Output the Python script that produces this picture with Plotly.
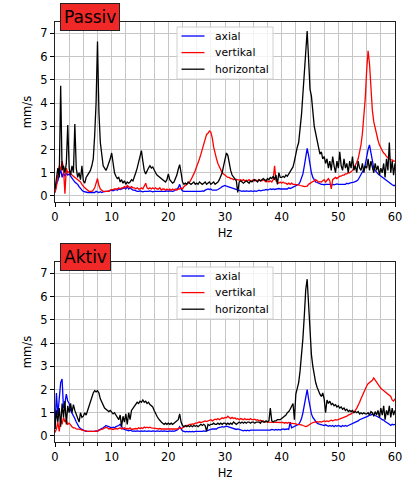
import plotly.graph_objects as go

# frequency grid (Hz), 0.25 Hz steps from 0 to 60
freq = [k * 0.25 for k in range(241)]

# ---------- Passiv ----------
axial_passiv = [
    0.15, 0.5, 0.65, 0.9, 1.15, 0.8, 1.0, 0.85, 1.0, 0.9, 0.95, 0.85, 0.75, 0.7, 0.6, 0.55, 0.5, 0.4, 0.3, 0.25,
    0.2, 0.18, 0.15, 0.15, 0.15, 0.15, 0.18, 0.15, 0.15, 0.2, 0.18, 0.15, 0.18, 0.15, 0.18, 0.2, 0.2, 0.2, 0.22, 0.25,
    0.25, 0.22, 0.25, 0.28, 0.25, 0.3, 0.28, 0.3, 0.3, 0.35, 0.3, 0.4, 0.3, 0.35, 0.3, 0.25, 0.25, 0.22, 0.2, 0.2,
    0.22, 0.2, 0.18, 0.2, 0.2, 0.18, 0.2, 0.22, 0.2, 0.18, 0.2, 0.2, 0.18, 0.2, 0.18, 0.2, 0.2, 0.18, 0.2, 0.22,
    0.2, 0.22, 0.2, 0.2, 0.22, 0.25, 0.3, 0.35, 0.5, 0.3, 0.22, 0.2, 0.2, 0.18, 0.2, 0.18, 0.2, 0.2, 0.18, 0.2,
    0.2, 0.18, 0.2, 0.2, 0.22, 0.2, 0.25, 0.28, 0.3, 0.28, 0.3, 0.25, 0.25, 0.22, 0.25, 0.28, 0.3, 0.35, 0.4, 0.42,
    0.45, 0.42, 0.4, 0.4, 0.38, 0.35, 0.32, 0.3, 0.28, 0.25, 0.25, 0.22, 0.2, 0.22, 0.2, 0.22, 0.2, 0.2, 0.22, 0.2,
    0.2, 0.22, 0.2, 0.22, 0.25, 0.22, 0.25, 0.25, 0.25, 0.28, 0.25, 0.28, 0.3, 0.28, 0.3, 0.28, 0.3, 0.3, 0.32, 0.3,
    0.3, 0.32, 0.3, 0.32, 0.3, 0.35, 0.32, 0.35, 0.38, 0.4, 0.42, 0.45, 0.5, 0.6, 0.75, 0.95, 1.3, 1.7, 2.05, 1.75,
    1.3, 1.0, 0.8, 0.7, 0.6, 0.58, 0.55, 0.52, 0.5, 0.5, 0.48, 0.5, 0.5, 0.48, 0.5, 0.45, 0.5, 0.48, 0.5, 0.52,
    0.5, 0.5, 0.52, 0.5, 0.52, 0.5, 0.55, 0.52, 0.55, 0.55, 0.58, 0.6, 0.62, 0.65, 0.7, 0.8, 0.9, 1.0, 1.15, 1.35,
    1.7, 2.0, 2.2, 1.8, 1.4, 1.2, 1.1, 1.0, 0.95, 0.9, 0.85, 0.8, 0.75, 0.7, 0.65, 0.6, 0.55, 0.5, 0.48, 0.45,
    0.45,
]
vertikal_passiv = [
    0.15, 0.4, 0.9, 1.3, 1.1, 1.5, 1.2, 0.1, 1.2, 1.0, 1.05, 0.95, 0.9, 0.85, 0.8, 0.75, 0.7, 0.65, 0.6, 0.5,
    0.4, 0.35, 0.3, 0.25, 0.2, 0.2, 0.2, 0.25, 0.35, 0.55, 0.75, 0.45, 0.3, 0.25, 0.2, 0.2, 0.2, 0.22, 0.2, 0.25,
    0.25, 0.28, 0.3, 0.3, 0.3, 0.35, 0.3, 0.35, 0.35, 0.4, 0.35, 0.45, 0.4, 0.35, 0.4, 0.35, 0.35, 0.3, 0.35, 0.3,
    0.3, 0.35, 0.3, 0.45, 0.55, 0.35, 0.3, 0.35, 0.3, 0.35, 0.3, 0.35, 0.3, 0.3, 0.35, 0.25, 0.3, 0.3, 0.25, 0.3,
    0.25, 0.3, 0.25, 0.3, 0.25, 0.3, 0.25, 0.3, 0.3, 0.35, 0.3, 0.4, 0.45, 0.5, 0.55, 0.6, 0.7, 0.8, 0.95, 1.1,
    1.25, 1.4, 1.6, 1.8, 2.0, 2.25, 2.5, 2.65, 2.7, 2.8, 2.75, 2.5, 2.1, 1.8, 1.6, 1.4, 1.25, 1.1, 1.0, 0.95,
    0.9, 0.85, 0.8, 0.8, 0.75, 0.75, 0.7, 0.72, 0.7, 0.7, 0.68, 0.7, 0.65, 0.7, 0.65, 0.68, 0.65, 0.7, 0.65, 0.65,
    0.7, 0.65, 0.68, 0.65, 0.7, 0.65, 0.65, 0.7, 0.65, 0.6, 0.65, 0.6, 0.65, 0.6, 0.7, 1.3, 0.65, 0.6, 0.55, 0.6,
    0.55, 0.6, 0.55, 0.55, 0.5, 0.55, 0.5, 0.55, 0.5, 0.5, 0.5, 0.48, 0.48, 0.45, 0.45, 0.42, 0.4, 0.4, 0.42, 0.5,
    0.55, 0.6, 0.62, 0.65, 0.7, 0.65, 0.6, 0.62, 0.6, 0.65, 0.7, 0.6, 0.7, 0.75, 0.65, 0.3, 0.7, 0.75, 0.8, 0.75,
    0.8, 0.85, 0.85, 0.9, 0.9, 0.95, 0.95, 1.0, 1.0, 1.05, 1.1, 1.2, 1.3, 1.45, 1.6, 1.9, 2.2, 2.7, 3.3, 4.2,
    5.4, 6.25, 5.7, 4.6, 3.7, 3.2, 2.9, 2.6, 2.4, 2.2, 2.05, 1.95, 1.85, 1.8, 1.7, 1.65, 1.6, 1.55, 1.55, 1.5,
    1.5,
]
horizontal_passiv = [
    0.3, 0.9, 1.2, 0.8, 4.75, 1.1, 1.3, 1.0, 1.4, 3.05, 1.2, 0.9, 1.3, 1.0, 3.1, 1.2, 0.8, 1.0, 0.7, 1.3,
    0.65, 0.55, 0.8, 0.9, 1.0, 1.1, 1.3, 1.6, 2.6, 4.0, 6.65, 3.6, 2.3, 1.8, 1.3, 1.2, 1.1, 1.25, 1.4, 1.6,
    1.85, 1.3, 1.0, 0.85, 0.75, 0.8, 0.6, 0.7, 0.55, 0.65, 0.5, 0.6, 0.55, 0.6, 0.7, 0.65, 0.8, 1.0, 1.2, 1.45,
    1.8, 1.95, 1.5, 1.1, 0.95, 1.1, 1.2, 1.3, 1.2, 1.25, 1.1, 1.0, 0.9, 0.85, 0.8, 0.75, 0.7, 0.65, 0.6, 0.7,
    0.95, 0.7, 0.6, 0.55, 0.6, 0.75, 0.9, 1.15, 1.35, 1.0, 0.6, 0.5, 0.55, 0.5, 0.6, 0.55, 0.5, 0.55, 0.6, 0.5,
    0.55, 0.5, 0.6, 0.55, 0.5, 0.55, 0.6, 0.5, 0.55, 0.6, 0.5, 0.55, 0.6, 0.5, 0.55, 0.6, 0.7, 0.85, 1.0, 1.3,
    1.6, 1.85, 1.75, 1.4, 1.1, 0.9, 0.8, 0.7, 0.65, 0.15, 0.6, 0.65, 0.6, 0.55, 0.6, 0.65, 0.6, 0.55, 0.65, 0.6,
    0.65, 0.7, 0.65, 0.6, 0.7, 0.65, 0.7, 0.75, 0.7, 0.65, 0.75, 0.7, 0.8, 0.75, 0.85, 0.7, 0.9, 0.5, 1.0, 0.8,
    0.8, 0.85, 0.8, 0.9, 0.85, 0.95, 1.0, 1.1, 1.25, 1.5, 1.9, 2.1, 2.3, 2.8, 3.5, 4.4, 5.4, 6.4, 7.1, 5.9,
    4.6, 4.3, 3.5, 3.0, 2.7, 2.3, 2.1, 1.8, 1.9, 1.6, 1.7, 1.4, 1.6, 1.2, 1.5, 1.1, 1.7, 1.3, 1.0, 1.5,
    1.2, 1.9, 1.3, 1.1, 1.6, 1.2, 1.4, 1.0, 1.5, 1.2, 1.7, 1.1, 1.3, 1.0, 1.5, 1.2, 1.1, 1.4, 1.0, 1.3,
    1.2, 1.6, 1.1, 1.5, 1.3, 1.0, 1.4, 1.1, 1.3, 0.9, 1.2, 1.0, 1.4, 0.8, 1.6, 1.1, 2.3, 1.0, 1.5, 0.9,
    1.4,
]

# ---------- Aktiv ----------
axial_aktiv = [
    0.3, 1.85, 0.9, 1.6, 2.3, 2.45, 1.2, 1.4, 1.8, 1.5, 1.4, 1.1, 1.0, 0.85, 0.75, 0.6, 0.45, 0.38, 0.32, 0.28,
    0.25, 0.22, 0.2, 0.2, 0.18, 0.18, 0.2, 0.18, 0.2, 0.22, 0.2, 0.25, 0.28, 0.3, 0.35, 0.4, 0.45, 0.42, 0.4, 0.38,
    0.35, 0.38, 0.35, 0.4, 0.42, 0.45, 0.5, 0.4, 0.3, 0.28, 0.25, 0.25, 0.22, 0.25, 0.22, 0.2, 0.22, 0.2, 0.22, 0.2,
    0.2, 0.22, 0.2, 0.22, 0.2, 0.2, 0.22, 0.2, 0.2, 0.22, 0.2, 0.2, 0.22, 0.2, 0.2, 0.22, 0.2, 0.22, 0.2, 0.2,
    0.2, 0.22, 0.2, 0.22, 0.2, 0.22, 0.25, 0.3, 0.4, 0.3, 0.22, 0.2, 0.18, 0.2, 0.18, 0.2, 0.18, 0.2, 0.18, 0.2,
    0.2, 0.18, 0.2, 0.18, 0.2, 0.22, 0.2, 0.22, 0.25, 0.25, 0.28, 0.3, 0.3, 0.32, 0.3, 0.35, 0.35, 0.38, 0.4, 0.38,
    0.4, 0.42, 0.4, 0.38, 0.35, 0.32, 0.3, 0.3, 0.28, 0.3, 0.28, 0.25, 0.25, 0.22, 0.25, 0.22, 0.25, 0.22, 0.25, 0.25,
    0.22, 0.25, 0.22, 0.25, 0.22, 0.25, 0.22, 0.25, 0.25, 0.22, 0.25, 0.22, 0.25, 0.28, 0.25, 0.25, 0.28, 0.25, 0.28, 0.25,
    0.28, 0.3, 0.28, 0.3, 0.3, 0.28, 0.6, 0.35, 0.38, 0.4, 0.42, 0.45, 0.5, 0.6, 0.75, 1.0, 1.4, 1.8, 2.0, 1.6,
    1.2, 0.95, 0.8, 0.7, 0.6, 0.55, 0.52, 0.5, 0.5, 0.48, 0.45, 0.48, 0.45, 0.42, 0.45, 0.42, 0.45, 0.4, 0.45, 0.42,
    0.45, 0.42, 0.4, 0.45, 0.42, 0.45, 0.42, 0.45, 0.48, 0.5, 0.52, 0.55, 0.58, 0.6, 0.65, 0.7, 0.72, 0.75, 0.78, 0.8,
    0.82, 0.85, 0.9, 0.9, 0.95, 0.9, 0.88, 0.85, 0.82, 0.8, 0.75, 0.7, 0.68, 0.62, 0.6, 0.55, 0.5, 0.45, 0.5, 0.48,
    0.5,
]
vertikal_aktiv = [
    0.15, 0.3, 0.6, 0.2, 0.75, 0.5, 0.8, 0.6, 0.7, 0.5, 0.55, 0.45, 0.4, 0.35, 0.35, 0.3, 0.3, 0.28, 0.28, 0.25,
    0.25, 0.22, 0.22, 0.2, 0.2, 0.2, 0.18, 0.2, 0.2, 0.22, 0.2, 0.25, 0.25, 0.28, 0.3, 0.35, 0.38, 0.35, 0.3, 0.32,
    0.3, 0.28, 0.3, 0.32, 0.3, 0.32, 0.35, 0.3, 0.32, 0.35, 0.3, 0.32, 0.3, 0.35, 0.28, 0.3, 0.3, 0.32, 0.3, 0.35,
    0.32, 0.35, 0.32, 0.38, 0.35, 0.38, 0.35, 0.38, 0.35, 0.35, 0.32, 0.35, 0.32, 0.3, 0.32, 0.3, 0.3, 0.28, 0.3, 0.28,
    0.3, 0.28, 0.3, 0.3, 0.28, 0.3, 0.3, 0.32, 0.35, 0.32, 0.35, 0.4, 0.42, 0.45, 0.45, 0.5, 0.5, 0.52, 0.5, 0.55,
    0.55, 0.58, 0.6, 0.58, 0.6, 0.62, 0.65, 0.62, 0.65, 0.68, 0.7, 0.65, 0.7, 0.72, 0.7, 0.75, 0.7, 0.75, 0.78, 0.75,
    0.8, 0.78, 0.85, 0.8, 0.75, 0.8, 0.75, 0.78, 0.72, 0.75, 0.7, 0.75, 0.72, 0.7, 0.75, 0.7, 0.72, 0.7, 0.75, 0.7,
    0.7, 0.72, 0.68, 0.7, 0.65, 0.68, 0.62, 0.65, 0.6, 0.62, 0.6, 0.6, 0.58, 0.6, 0.58, 0.6, 0.6, 0.58, 0.6, 0.58,
    0.6, 0.58, 0.55, 0.58, 0.55, 0.58, 0.55, 0.55, 0.55, 0.55, 0.52, 0.5, 0.5, 0.5, 0.48, 0.45, 0.42, 0.4, 0.42, 0.45,
    0.5, 0.55, 0.58, 0.6, 0.6, 0.62, 0.6, 0.62, 0.6, 0.62, 0.65, 0.62, 0.65, 0.62, 0.65, 0.68, 0.65, 0.68, 0.7, 0.68,
    0.7, 0.72, 0.75, 0.78, 0.8, 0.82, 0.85, 0.9, 0.92, 0.95, 1.0, 1.05, 1.1, 1.2, 1.3, 1.45, 1.6, 1.75, 1.9, 2.05,
    2.15, 2.25, 2.3, 2.35, 2.4, 2.5, 2.4, 2.3, 2.2, 2.1, 2.05, 2.0, 1.95, 1.9, 1.85, 1.8, 1.75, 1.7, 1.55, 1.5,
    1.6,
]
horizontal_aktiv = [
    0.3, 1.1, 0.6, 1.2, 0.4, 1.4, 0.8, 1.5, 0.5, 1.3, 1.0, 1.4, 1.0, 1.35, 1.1, 0.9, 0.8, 0.6, 1.0, 0.8,
    0.85, 1.0, 0.9, 1.1, 1.3, 1.5, 1.7, 1.85, 1.95, 1.9, 1.95, 1.85, 1.6, 1.45, 1.3, 1.2, 1.15, 1.1, 1.05, 1.1,
    1.0, 0.95, 1.0, 0.9, 0.85, 0.7, 0.9, 0.4, 0.85, 0.6, 0.95, 0.5, 1.0, 0.7, 1.1, 1.2, 1.3, 1.35, 1.45, 1.4,
    1.5, 1.45, 1.55, 1.45, 1.5, 1.4, 1.45, 1.35, 1.3, 1.25, 1.1, 0.95, 0.85, 0.75, 0.65, 0.6, 0.55, 0.5, 0.55, 0.5,
    0.55, 0.5, 0.55, 0.5, 0.55, 0.6, 0.65, 0.7, 0.95, 0.6, 0.45, 0.4, 0.45, 0.4, 0.45, 0.4, 0.45, 0.4, 0.45, 0.42,
    0.45, 0.4, 0.45, 0.5, 0.45, 0.5, 0.45, 0.2, 0.5, 0.45, 0.5, 0.5, 0.55, 0.5, 0.5, 0.55, 0.5, 0.55, 0.5, 0.55,
    0.55, 0.5, 0.55, 0.5, 0.55, 0.5, 0.6, 0.55, 0.5, 0.55, 0.6, 0.55, 0.6, 0.55, 0.6, 0.55, 0.6, 0.6, 0.55, 0.6,
    0.6, 0.55, 0.6, 0.6, 0.6, 0.55, 0.65, 0.6, 0.6, 0.65, 0.6, 0.65, 1.2, 0.65, 0.6, 0.65, 0.65, 0.7, 0.7, 0.7,
    0.75, 0.8, 0.85, 0.9, 1.0, 1.05, 1.15, 1.3, 1.4, 0.7, 1.8, 2.05, 2.3, 2.8, 3.4, 4.2, 5.2, 6.3, 6.75, 5.5,
    4.3, 3.5, 3.0, 2.6, 2.3, 2.1, 1.9, 1.8, 1.7, 1.85, 1.6, 1.0, 1.55, 1.4, 1.5, 1.35, 1.4, 1.3, 1.35, 1.25,
    1.3, 1.2, 1.25, 1.15, 1.2, 1.1, 1.15, 1.05, 1.1, 1.05, 1.1, 1.0, 1.05, 1.0, 1.05, 0.95, 1.0, 0.95, 1.0, 0.95,
    0.95, 1.0, 0.9, 1.05, 1.0, 0.85, 1.05, 0.9, 1.1, 0.8, 1.2, 0.9, 1.3, 0.7, 1.1, 0.9, 1.3, 0.8, 1.2, 0.9,
    1.1,
]

series_names = ["axial", "vertikal", "horizontal"]
series_colors = ["#0000ff", "#ff0000", "#000000"]
panel_titles = ["Passiv", "Aktiv"]
x_ticks = [0, 10, 20, 30, 40, 50, 60]
y_ticks = [0, 1, 2, 3, 4, 5, 6, 7]

W, H = 406, 481
FONT = "DejaVu Sans"

def px(x):
    return x / W

def py(y):
    return 1 - y / H

fig = go.Figure()

panels = [
    (axial_passiv, vertikal_passiv, horizontal_passiv),
    (axial_aktiv, vertikal_aktiv, horizontal_aktiv),
]
for p, data in enumerate(panels):
    xa = "x" if p == 0 else "x2"
    ya = "y" if p == 0 else "y2"
    for name, color, vals in zip(series_names, series_colors, data):
        fig.add_trace(go.Scatter(
            x=freq, y=vals, mode="lines", name=name,
            line=dict(color=color, width=1.3),
            xaxis=xa, yaxis=ya, showlegend=False,
        ))

grid_c = "#c6c6c6"
def xaxis_cfg(domain_anchor):
    return dict(
        domain=[55 / W, 395 / W], anchor=domain_anchor, range=[0, 60],
        automargin=False,
        tickvals=x_ticks, ticks="outside", ticklen=4, tickcolor="black",
        showgrid=True, gridcolor=grid_c, gridwidth=1.3,
        minor=dict(dtick=2.5, tick0=0, ticks="outside", ticklen=2.5, tickcolor="black",
                   showgrid=True, gridcolor=grid_c, gridwidth=1.3),
        showline=True, linecolor="#222", linewidth=1, mirror=True,
        zeroline=False,
        title=dict(text="Hz", font=dict(size=11.5, family=FONT, color="black"), standoff=6),
        tickfont=dict(size=11.5, family=FONT, color="black"),
    )

def yaxis_cfg(domain, anchor):
    return dict(
        domain=domain, anchor=anchor, range=[-0.26, 7.49],
        automargin=False,
        tickvals=y_ticks, ticks="outside", ticklen=4, tickcolor="black",
        showgrid=True, gridcolor=grid_c, gridwidth=1.3,
        showline=True, linecolor="#222", linewidth=1, mirror=True,
        zeroline=False,
        title=dict(text="mm/s", font=dict(size=11.5, family=FONT, color="black"), standoff=6),
        tickfont=dict(size=11.5, family=FONT, color="black"),
    )

fig.update_layout(
    width=W, height=H, margin=dict(l=0, r=0, t=0, b=0, autoexpand=False),
    paper_bgcolor="white", plot_bgcolor="white",
    font=dict(family=FONT, color="black"),
    xaxis=xaxis_cfg("y"),
    yaxis=yaxis_cfg([(H - 202) / H, (H - 22) / H], "x"),
    xaxis2=xaxis_cfg("y2"),
    yaxis2=yaxis_cfg([(H - 442) / H, (H - 262) / H], "x2"),
    showlegend=False,
)

# panel title boxes and legends (matplotlib-style)
for title, off in zip(panel_titles, [0, 240]):
    fig.add_annotation(
        text=title, xref="paper", yref="paper",
        x=px(60), y=py(3 + off), xanchor="left", yanchor="top",
        showarrow=False, font=dict(size=17, family=FONT, color="black"),
        bgcolor="#f02828", bordercolor="#222", borderwidth=1, borderpad=3,
    )
    fig.add_shape(
        type="rect", xref="paper", yref="paper",
        x0=px(177), x1=px(273), y0=py(27 + off), y1=py(79 + off),
        fillcolor="rgba(255,255,255,0.8)", line=dict(color="#d0d0d0", width=1),
    )
    for i, (name, color) in enumerate(zip(series_names, series_colors)):
        yy = 36 + off + i * 16.6
        fig.add_shape(
            type="line", xref="paper", yref="paper",
            x0=px(181.5), x1=px(204.5), y0=py(yy), y1=py(yy),
            line=dict(color=color, width=1.3),
        )
        fig.add_annotation(
            text=name, xref="paper", yref="paper",
            x=px(212.5), y=py(yy), xanchor="left", yanchor="middle",
            showarrow=False, font=dict(size=10.8, family=FONT, color="black"),
        )

fig.write_html(
    "out.html",
    config={"displayModeBar": False},
    post_script="document.body.style.margin='0';document.body.style.overflow='hidden';",
)
